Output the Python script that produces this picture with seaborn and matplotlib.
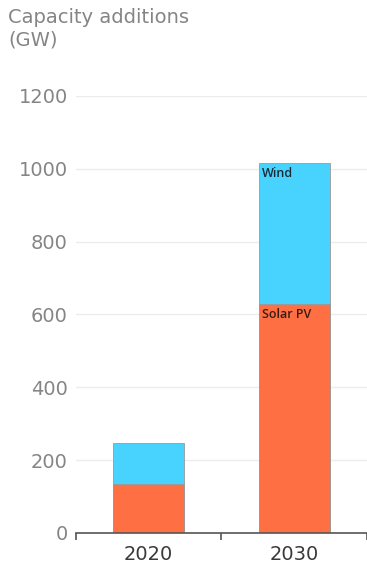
import matplotlib
matplotlib.use("Agg")
import matplotlib.pyplot as plt
import seaborn as sns
import pandas as pd

years = ["2020", "2030"]
solar_pv = [135, 630]
wind = [112, 386]
yticks = [0, 200, 400, 600, 800, 1000, 1200]
title = "Capacity additions\n(GW)"

sns.set_style("white")
plt.rcParams["font.family"] = ["DejaVu Sans"]

totals = [s + w for s, w in zip(solar_pv, wind)]
df = pd.DataFrame({"year": years, "solar": solar_pv, "total": totals})

fig = plt.figure(figsize=(3.67, 5.69), dpi=100)
ax = fig.add_axes([0.207, 0.0633, 0.793, 0.768])

wind_c = "#48D2FE"
solar_c = "#FE7043"
sns.barplot(data=df, x="year", y="total", color=wind_c, width=0.49,
            edgecolor="#9a9a9a", linewidth=0.6, saturation=1, ax=ax)
sns.barplot(data=df, x="year", y="solar", color=solar_c, width=0.49,
            edgecolor="#9a9a9a", linewidth=0.6, saturation=1, ax=ax)

ax.set_xlim(-0.5, 1.5)
ax.set_ylim(0, 1200)
ax.set_yticks(yticks)
ax.set_yticklabels([str(t) for t in yticks], fontsize=14, color="#858585")
ax.yaxis.grid(True, color="#ececec", linewidth=1)
ax.set_axisbelow(True)
ax.tick_params(axis="y", length=0, pad=6)
ax.set_xlabel("")
ax.set_ylabel("")
ax.set_xticks([0, 1])
ax.set_xticklabels(years, fontsize=14, color="#3a3a3a")
ax.set_xticks([-0.5, 0.5, 1.5], minor=True)
ax.tick_params(axis="x", which="major", length=0, pad=9, bottom=True)
ax.tick_params(axis="x", which="minor", length=5, width=1.2, color="#555555",
               direction="out", bottom=True)
for s in ["top", "right", "left"]:
    ax.spines[s].set_visible(False)
ax.spines["bottom"].set_color("#555555")
ax.spines["bottom"].set_linewidth(1.2)

lab_font = ["Open Sans", "DejaVu Sans"]
ax.text(1 - 0.245 + 0.02, totals[1] - 12, "Wind", fontsize=9, color="#1b2b35",
        ha="left", va="top", fontweight="semibold", family=lab_font)
ax.text(1 - 0.245 + 0.02, solar_pv[1] - 12, "Solar PV", fontsize=9, color="#3a1c10",
        ha="left", va="top", fontweight="semibold", family=lab_font)

fig.text(8 / 367, 1 - 8 / 569, title, fontsize=14, color="#858585",
         ha="left", va="top", linespacing=1.25)

fig.savefig("out.png", dpi=100)
